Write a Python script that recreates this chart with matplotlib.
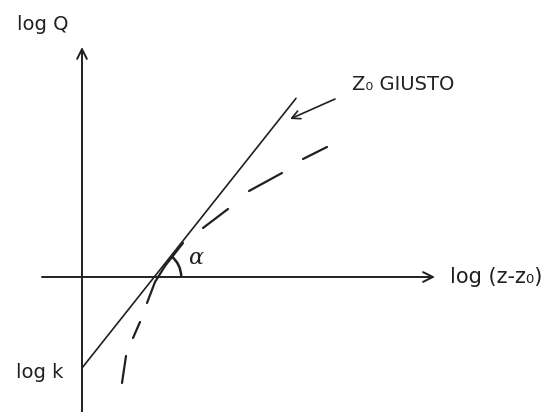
import numpy as np
import matplotlib.pyplot as plt
from matplotlib.patches import Arc

# straight line  log Q = log k + tan(alpha) * log(z - z0)
log_k = -0.91
slope = 1.26
line_x_end = 2.14

# dashed curve (wrong z0), points along the sketch
curve_x = [0.40, 0.44, 0.51, 0.58, 0.65, 0.73, 0.83, 1.01, 1.21, 1.46, 1.67, 2.00, 2.21, 2.45]
curve_y = [-1.06, -0.79, -0.61, -0.45, -0.26, -0.05, 0.11, 0.34, 0.49, 0.68, 0.86, 1.04, 1.18, 1.30]
# which points belong to each dash stroke
dash_groups = [(0, 2), (2, 4), (4, 8), (8, 10), (10, 12), (12, 14)]

x_label = "log (z-z\u2080)"
y_label = "log Q"
k_label = "log k"
note_text = "Z\u2080 GIUSTO"

ink = '#231f1c'

fig = plt.figure(figsize=(5.56, 4.12), dpi=100)
ax = fig.add_axes([0, 0, 1, 1])
ax.set_xlim(-0.82, 4.74)
ax.set_ylim(-1.35, 2.77)
ax.axis('off')

# axes with open arrow heads
arrow = dict(arrowstyle='->,head_length=0.7,head_width=0.35', color=ink, lw=1.4,
             shrinkA=0, shrinkB=0)
ax.annotate('', xy=(3.53, 0), xytext=(-0.40, 0), arrowprops=arrow)
ax.annotate('', xy=(0, 2.30), xytext=(0, -1.35), arrowprops=arrow)

# solid straight line
lx = np.array([0, line_x_end])
ax.plot(lx, log_k + slope * lx, color=ink, lw=1.2, solid_capstyle='round')

# dashed curve, one stroke per dash
cx = np.array(curve_x)
cy = np.array(curve_y)
for a, b in dash_groups:
    ax.plot(cx[a:b], cy[a:b], color=ink, lw=1.6, solid_capstyle='round')

# angle alpha between the line and the x axis
alpha = np.degrees(np.arctan(slope))
x0 = -log_k / slope
ax.add_patch(Arc((x0, 0), 0.54, 0.54, theta1=0, theta2=alpha, color=ink, lw=1.8))
ax.text(1.14, 0.19, "\u03b1", fontsize=16, color=ink, ha='center', va='center',
        family='DejaVu Serif', style='italic')

# labels
ax.text(-0.39, 2.52, y_label, fontsize=14, color=ink, ha='center', va='center')
ax.text(-0.42, -0.95, k_label, fontsize=14, color=ink, ha='center', va='center')
ax.text(3.68, 0.0, x_label, fontsize=15, color=ink, ha='left', va='center')

# note with arrow pointing at the straight line
ax.text(2.70, 1.92, note_text, fontsize=14, color=ink, ha='left', va='center')
ax.annotate('', xy=(2.08, 1.58), xytext=(2.53, 1.78),
            arrowprops=dict(arrowstyle='->,head_length=0.6,head_width=0.3', color=ink,
                            lw=1.2, shrinkA=0, shrinkB=0))

fig.savefig('out.png', dpi=100, facecolor='white')
